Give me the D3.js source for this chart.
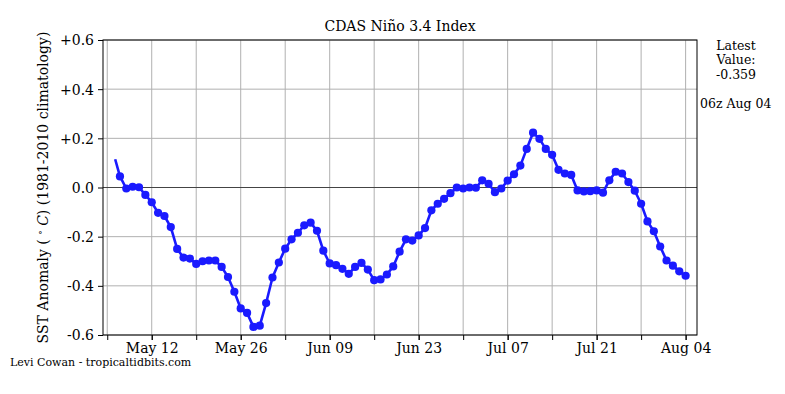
<!DOCTYPE html>
<html>
<head>
<meta charset="utf-8">
<script src="https://cdn.jsdelivr.net/npm/d3@7"></script>
<style>
  body { margin: 0; background: #fff; }
  svg text { font-family: "DejaVu Serif", "Liberation Serif", serif; }
</style>
</head>
<body>
<svg id="chart" width="785" height="394"></svg>
<script>
// daily CDAS Nino 3.4 anomaly, May 07 -> Aug 04 (one value per day)
const firstDay = "2025-05-07";
const lastDay = "2025-08-04";
const anomaly = [
  0.045, -0.004, 0.003, 0.001, -0.03, -0.06, -0.103, -0.116, -0.161, -0.25,
  -0.285, -0.289, -0.311, -0.30, -0.297, -0.297, -0.323, -0.364, -0.424, -0.492,
  -0.51, -0.567, -0.562, -0.47, -0.366, -0.305, -0.249, -0.211, -0.184, -0.154,
  -0.143, -0.176, -0.257, -0.309, -0.316, -0.331, -0.351, -0.323, -0.307, -0.334,
  -0.377, -0.374, -0.354, -0.321, -0.261, -0.211, -0.216, -0.195, -0.165, -0.093,
  -0.066, -0.046, -0.023, 0.0, -0.004, 0.0, -0.001, 0.029, 0.015, -0.019,
  -0.004, 0.028, 0.054, 0.089, 0.157, 0.223, 0.198, 0.157, 0.133, 0.072,
  0.057, 0.051, -0.012, -0.016, -0.015, -0.012, -0.021, 0.029, 0.064, 0.057,
  0.022, -0.013, -0.066, -0.138, -0.178, -0.24, -0.297, -0.318, -0.341, -0.359
];
// line starts a little before the first marker (no marker drawn there)
const leadDate = "2025-05-06T06:00Z";
const leadValue = 0.115;

const yTicks = [-0.6, -0.4, -0.2, 0.0, 0.2, 0.4, 0.6];
const yTickLabels = ["-0.6", "-0.4", "-0.2", "0.0", "+0.2", "+0.4", "+0.6"];
const xStart = "2025-05-04T08:00Z";
const xEnd = "2025-08-05T19:00Z";
const majorTickStart = "2025-05-12";
const minorTickStart = "2025-05-05";

const latestLines = ["Latest", "Value:", "-0.359"];
const stampText = "06z Aug 04";
const credit = "Levi Cowan - tropicaltidbits.com";

const serif = '"DejaVu Serif", "Liberation Serif", serif';

const svg = d3.select("#chart");
const margin = { top: 40, right: 88, bottom: 59, left: 103 };
const width = 785 - margin.left - margin.right;
const height = 394 - margin.top - margin.bottom;

const days = d3.utcDay.range(new Date(firstDay), d3.utcDay.offset(new Date(lastDay), 1));
const points = days.map((d, i) => ({ date: d, value: anomaly[i] }));
const linePts = [{ date: new Date(leadDate), value: leadValue }].concat(points);

const x = d3.scaleUtc().domain([new Date(xStart), new Date(xEnd)]).range([0, width]);
const y = d3.scaleLinear().domain([-0.6, 0.6]).range([height, 0]);

const majorTicks = d3.utcDay.range(new Date(majorTickStart), new Date(xEnd), 14);
const minorTicks = d3.utcDay.range(new Date(minorTickStart), new Date(xEnd), 7);

svg.append("rect").attr("width", 785).attr("height", 394).attr("fill", "#fff");

const g = svg.append("g").attr("transform", `translate(${margin.left},${margin.top})`);

// grid
g.append("g").selectAll("line").data(minorTicks).join("line")
  .attr("x1", d => x(d)).attr("x2", d => x(d))
  .attr("y1", 0).attr("y2", height)
  .attr("stroke", "#b0b0b0").attr("stroke-width", 1);
g.append("g").selectAll("line").data(yTicks.filter(t => t !== 0)).join("line")
  .attr("x1", 0).attr("x2", width)
  .attr("y1", d => y(d)).attr("y2", d => y(d))
  .attr("stroke", "#b0b0b0").attr("stroke-width", 1);

// zero line
g.append("line")
  .attr("x1", 0).attr("x2", width)
  .attr("y1", y(0)).attr("y2", y(0))
  .attr("stroke", "#444").attr("stroke-width", 1.2);

// axes
const xMinor = d3.axisBottom(x).tickValues(minorTicks).tickSize(5).tickFormat("");
const xMajor = d3.axisBottom(x).tickValues(majorTicks).tickSize(5).tickPadding(3)
  .tickFormat(d3.utcFormat("%b %d"));
const yAxis = d3.axisLeft(y).tickValues(yTicks).tickSize(5).tickPadding(4)
  .tickFormat((d, i) => yTickLabels[i]);

const gx1 = g.append("g").attr("transform", `translate(0,${height})`).call(xMinor);
const gx2 = g.append("g").attr("transform", `translate(0,${height})`).call(xMajor);
const gy = g.append("g").call(yAxis);
[gx1, gx2, gy].forEach(a => {
  a.attr("font-family", serif).attr("font-size", 14);
  a.select(".domain").remove();
  a.selectAll("line").attr("stroke", "#000");
  a.selectAll("text").attr("fill", "#000");
});
gy.selectAll("text").attr("dy", "0.35em");

// frame
g.append("rect").attr("width", width).attr("height", height)
  .attr("fill", "none").attr("stroke", "#000").attr("stroke-width", 1);

// series
const line = d3.line().x(d => x(d.date)).y(d => y(d.value));
g.append("path").datum(linePts)
  .attr("fill", "none").attr("stroke", "#1a1aff")
  .attr("stroke-width", 2.6).attr("stroke-linejoin", "round")
  .attr("d", line);
g.append("g").selectAll("circle").data(points).join("circle")
  .attr("cx", d => x(d.date)).attr("cy", d => y(d.value))
  .attr("r", 4.1).attr("fill", "#1a1aff");

// title
svg.append("text")
  .attr("x", margin.left + width / 2).attr("y", 31)
  .attr("text-anchor", "middle").attr("font-family", serif).attr("font-size", 14)
  .text("CDAS Niño 3.4 Index");

// y label
const yl = svg.append("text")
  .attr("transform", `translate(48,${margin.top + height / 2}) rotate(-90)`)
  .attr("text-anchor", "middle").attr("font-family", serif).attr("font-size", 14);
yl.append("tspan").text("SST Anomaly ( ");
yl.append("tspan").attr("dy", -5).attr("font-size", 9).text("∘");
yl.append("tspan").attr("dy", 5).attr("font-style", "italic").text(" C");
yl.append("tspan").text(") (1981-2010 climatology)");

// latest value box
svg.append("text").attr("x", 736).attr("y", 50)
  .attr("text-anchor", "middle").attr("font-family", serif).attr("font-size", 12.5)
  .selectAll("tspan").data(latestLines).join("tspan")
  .attr("x", 736).attr("dy", (d, i) => i === 0 ? 0 : "1.15em").text(d => d);
svg.append("text").attr("x", 700).attr("y", 108)
  .attr("font-family", serif).attr("font-size", 12.5).text(stampText);

// credit
svg.append("text").attr("x", 10).attr("y", 366)
  .attr("font-family", serif).attr("font-size", 11).text(credit);
</script>
</body>
</html>
